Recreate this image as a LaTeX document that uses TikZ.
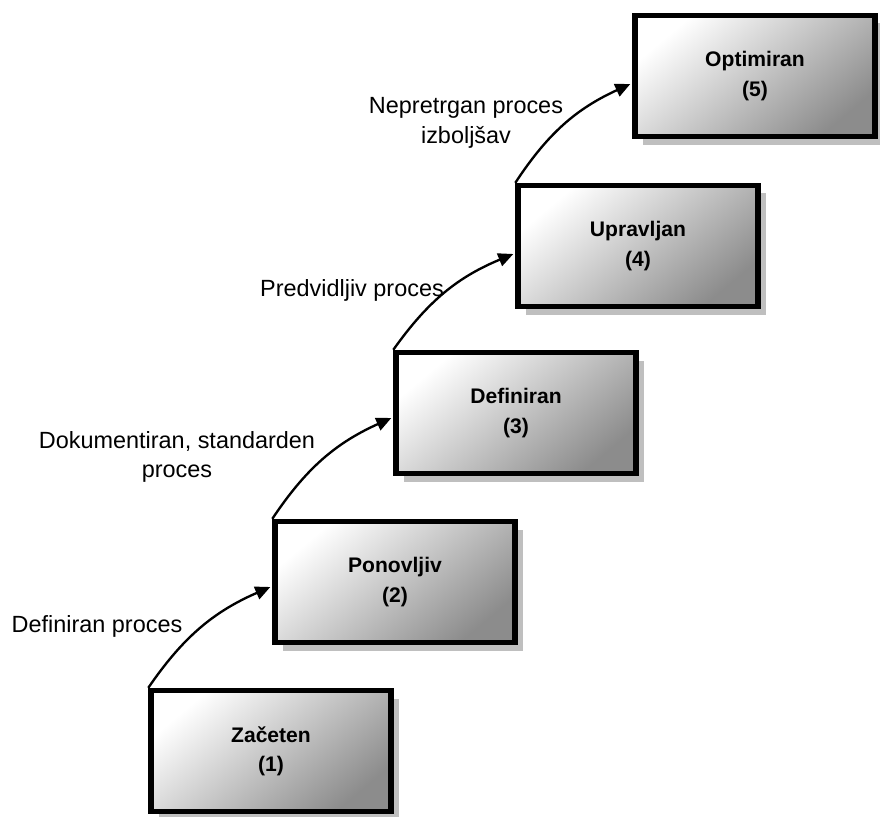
\documentclass[tikz,border=0pt]{standalone}
\usepackage{fontspec}
\setmainfont{Liberation Sans}
\usetikzlibrary{arrows.meta,shadows,calc}
\tikzset{
  stage/.style={draw=black, line width=4.6pt, rectangle, minimum width=7.2cm, minimum height=3.63cm,
    shading=axis, top color=white, bottom color=black!45, shading angle=40,
    drop shadow={shadow xshift=0.24cm, shadow yshift=-0.24cm, fill=black!25, opacity=1},
    align=center, font=\bfseries\fontsize{18}{25}\selectfont, inner sep=0pt},
  lbl/.style={align=center, font=\fontsize{20}{25}\selectfont, inner sep=0pt},
  stepline/.style={-{Triangle[length=0.45cm,width=0.4cm]}, line width=2pt, bend left=16}
}
\begin{document}
\begin{tikzpicture}[x=0.03cm,y=-0.03cm]
\useasboundingbox (0,0) rectangle (880,816);
\node[stage] (b1) at (271,751) {Začeten\\(1)};
\node[stage] (b2) at (395,582) {Ponovljiv\\(2)};
\node[stage] (b3) at (516,413) {Definiran\\(3)};
\node[stage] (b4) at (638,246) {Upravljan\\(4)};
\node[stage] (b5) at (755,76) {Optimiran\\(5)};
\node[lbl] (l1) at (97,626) {Definiran proces};
\node[lbl] (l2) at (177,457) {Dokumentiran, standarden\\proces};
\node[lbl] (l3) at (352,290) {Predvidljiv proces};
\node[lbl] (l4) at (466,123) {Nepretrgan proces\\izboljšav};
\draw[stepline] (b1.north west) to ($(b2.west)+(-2,5)$);
\draw[stepline] (b2.north west) to ($(b3.west)+(-2,5)$);
\draw[stepline] (b3.north west) to ($(b4.west)+(-2,8)$);
\draw[stepline] (b4.north west) to ($(b5.west)+(-2,8)$);
\end{tikzpicture}
\end{document}
